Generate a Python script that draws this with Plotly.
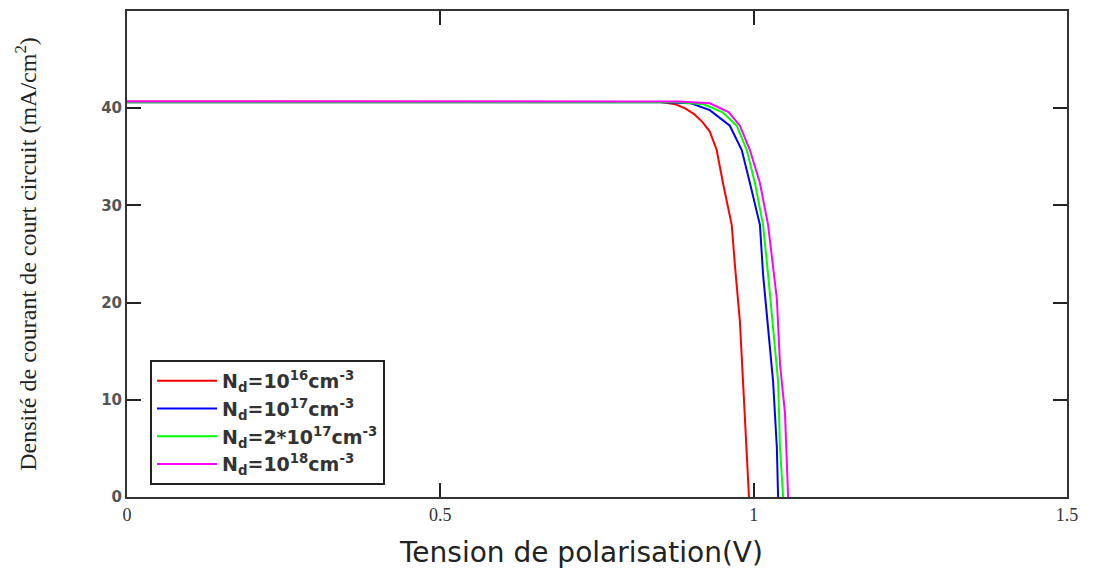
import plotly.graph_objects as go

# Data
v_red = [0, 0.5, 0.8, 0.85, 0.875, 0.89, 0.905, 0.918, 0.93, 0.941, 0.951, 0.965, 0.970, 0.978, 0.983, 0.989, 0.9925]
j_red = [40.7, 40.7, 40.7, 40.65, 40.4, 40.0, 39.4, 38.6, 37.6, 35.7, 32.3, 28.0, 23.9, 18.1, 11.9, 5.1, 0]

v_blue = [0, 0.85, 0.9, 0.93, 0.962, 0.981, 0.994, 1.010, 1.015, 1.023, 1.031, 1.037, 1.039]
j_blue = [40.6, 40.6, 40.5, 39.8, 38.2, 35.7, 32.3, 28.0, 22.9, 17.0, 11.9, 5.1, 0]

v_green = [0, 0.88, 0.92, 0.95, 0.973, 0.989, 1.002, 1.015, 1.023, 1.032, 1.039, 1.042, 1.047]
j_green = [40.6, 40.6, 40.4, 39.6, 38.2, 35.7, 32.3, 28.0, 22.9, 17.0, 11.9, 5.1, 0]

v_mag = [0, 0.88, 0.93, 0.96, 0.978, 0.994, 1.010, 1.023, 1.037, 1.042, 1.050, 1.053, 1.055]
j_mag = [40.7, 40.7, 40.5, 39.6, 38.2, 35.7, 32.3, 28.0, 20.4, 13.7, 8.6, 3.5, 0]

names = [
    "N<sub>d</sub>=10<sup>16</sup>cm<sup>-3</sup>",
    "N<sub>d</sub>=10<sup>17</sup>cm<sup>-3</sup>",
    "N<sub>d</sub>=2*10<sup>17</sup>cm<sup>-3</sup>",
    "N<sub>d</sub>=10<sup>18</sup>cm<sup>-3</sup>",
]
colors = ["#ff0000", "#0000ff", "#00ff00", "#ff00ff"]
x_ticks = [0, 0.5, 1, 1.5]
x_labels = ["0", "0.5", "1", "1.5"]
y_ticks = [0, 10, 20, 30, 40]
x_title = "Tension de polarisation(V)"
y_title = "Densité de courant de court circuit (mA/cm<sup>2</sup>)"

series = [(v_red, j_red), (v_blue, j_blue), (v_green, j_green), (v_mag, j_mag)]

fig = go.Figure()
for (vx, jy), name, c in zip(series, names, colors):
    fig.add_trace(go.Scatter(x=vx, y=jy, mode="lines", name=name,
                             line=dict(color=c, width=2)))

# page body has an 8px margin: figure starts at (8, 8) in the window
fig.update_layout(
    width=1085, height=562,
    margin=dict(l=119, r=26, t=1, b=73),
    plot_bgcolor="white", paper_bgcolor="white",
    showlegend=True,
    legend=dict(
        x=0.0245, y=0.282, xanchor="left", yanchor="top",
        bordercolor="#222", borderwidth=2, bgcolor="white",
        font=dict(family="DejaVu Sans", size=19, color="#333", weight="bold"),
        tracegroupgap=0,
        itemwidth=60,
    ),
    xaxis=dict(
        range=[0, 1.5], tickvals=x_ticks, ticktext=x_labels,
        ticks="inside", ticklen=14, tickwidth=2, tickcolor="#222",
        showline=True, linecolor="#333", linewidth=2, mirror="allticks",
        showgrid=False, zeroline=False,
        tickfont=dict(family="Liberation Serif", size=18, color="#333"),
    ),
    yaxis=dict(
        range=[0, 50], tickvals=y_ticks,
        ticks="inside", ticklen=14, tickwidth=2, tickcolor="#222",
        showline=True, linecolor="#333", linewidth=2, mirror="allticks",
        showgrid=False, zeroline=False,
        tickfont=dict(family="DejaVu Sans", size=15, color="#555", weight="bold"),
        title=dict(text=y_title,
                   font=dict(family="Liberation Serif", size=24, color="#222"), standoff=58),
    ),
    annotations=[dict(
        text=x_title, xref="paper", yref="paper",
        x=0.4835, y=-0.115, xanchor="center", yanchor="middle", showarrow=False,
        font=dict(family="DejaVu Sans", size=28, color="#222"),
    )],
)

fig.write_html("out.html")
